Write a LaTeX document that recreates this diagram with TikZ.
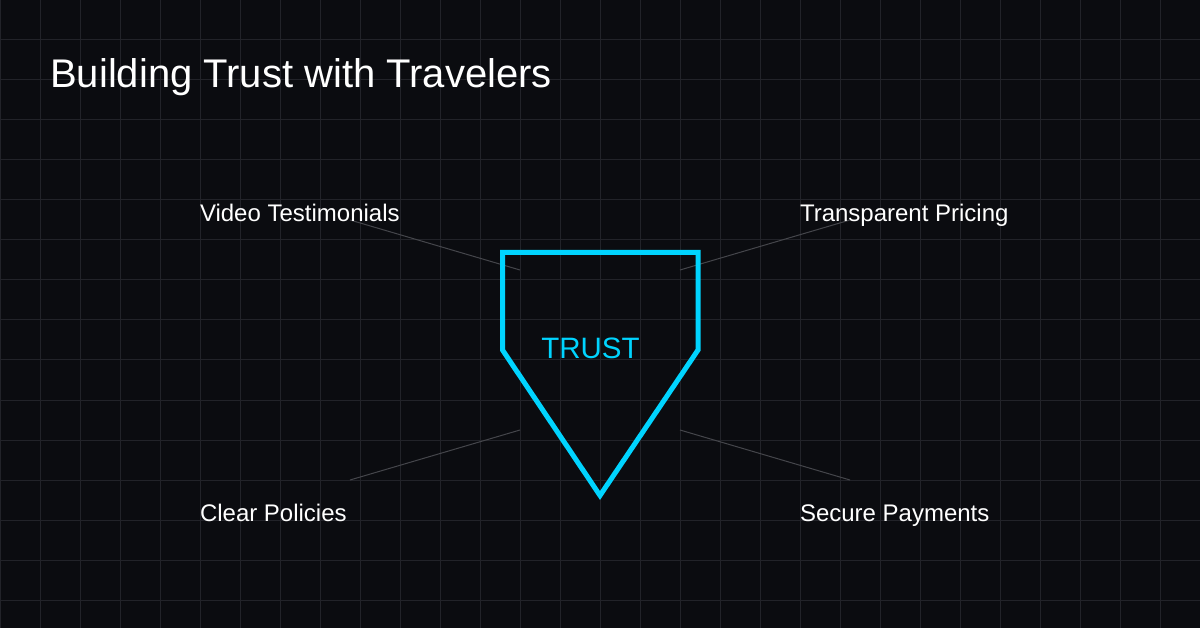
\documentclass[tikz,border=0pt]{standalone}
\usepackage{fontspec}
\setmainfont{Liberation Sans}
\definecolor{bg}{HTML}{0B0C10}
\definecolor{gridc}{HTML}{222329}
\definecolor{conn}{HTML}{45464B}
\definecolor{cyanc}{HTML}{00D4FF}
\begin{document}
\begin{tikzpicture}[x=1pt,y=-1pt,
  label/.style={anchor=base west,inner sep=0pt,outer sep=0pt,text=white,font=\fontsize{24}{28}\selectfont},
  connector/.style={draw=conn,line width=1pt},
  shield/.style={draw=cyanc,line width=5pt,line join=miter}]
\useasboundingbox (0,0) rectangle (1200,628);
\fill[bg] (0,0) rectangle (1200,628);
\foreach \x in {0,40,...,1200} \draw[gridc,line width=1pt] (\x,0) -- (\x,628);
\foreach \y in {0,40,...,600} \draw[gridc,line width=1pt] (0,\y) -- (1200,\y);
% title
\node[anchor=base west,inner sep=0pt,text=white,font=\fontsize{40}{46}\selectfont] (title) at (50,87.3) {Building Trust with Travelers};
% connector endpoints
\coordinate (c1a) at (350,220); \coordinate (c1b) at (520,270);
\coordinate (c2a) at (850,220); \coordinate (c2b) at (680,270);
\coordinate (c3a) at (350,480); \coordinate (c3b) at (520,430);
\coordinate (c4a) at (850,480); \coordinate (c4b) at (680,430);
\draw[connector] (c1a) -- (c1b);
\draw[connector] (c2a) -- (c2b);
\draw[connector] (c3a) -- (c3b);
\draw[connector] (c4a) -- (c4b);
% shield
\draw[shield] (502.5,252.5) -- (698,252.5) -- (698,350) -- (600,495.5) -- (502.5,350) -- cycle;
\node[anchor=base,inner sep=0pt,text=cyanc,font=\fontsize{29.5}{34}\selectfont] (trust) at (590.5,358.3) {TRUST};
% labels
\node[label] (vt) at (200,221.7) {Video Testimonials};
\node[label] (tp) at (800,221.7) {Transparent Pricing};
\node[label] (cp) at (200,521.3) {Clear Policies};
\node[label] (sp) at (800,521.3) {Secure Payments};
\end{tikzpicture}
\end{document}
